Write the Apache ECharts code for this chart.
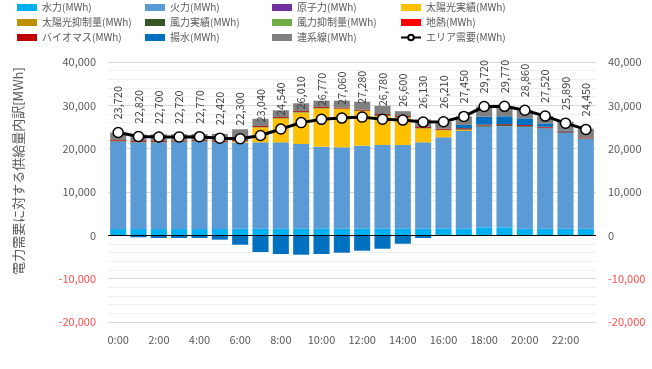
<!DOCTYPE html>
<html>
<head>
<meta charset="utf-8">
<script src="https://cdn.jsdelivr.net/npm/echarts@6/dist/echarts.min.js"></script>
<style>html,body{margin:0;padding:0;background:#fff}#c{width:652px;height:369px}</style>
</head>
<body>
<div id="c"></div>
<script>
const hours = ['0:00','1:00','2:00','3:00','4:00','5:00','6:00','7:00','8:00','9:00','10:00','11:00','12:00','13:00','14:00','15:00','16:00','17:00','18:00','19:00','20:00','21:00','22:00','23:00'];
const hydro      = [1450,1450,1450,1450,1450,1450,1530,1530,1530,1530,1530,1530,1530,1530,1530,1530,1600,1600,1850,1850,1530,1530,1530,1530];
const thermal    = [20200,20000,20000,20100,20200,20000,19840,19930,19930,19540,18920,18770,19150,19310,19310,19930,21020,22470,23250,23350,23530,23170,22120,20770];
const nuclear    = [0,0,0,0,0,0,0,0,0,0,0,0,0,0,0,0,0,0,0,0,0,0,0,0];
const solar      = [0,0,0,0,0,0,300,3470,5540,7300,8850,8900,8000,6750,6350,3230,1650,300,0,0,0,0,0,0];
const solarCurt  = [0,0,0,0,0,0,0,0,0,0,0,0,0,0,0,0,0,0,0,0,0,0,0,0];
const wind       = [100,100,100,100,100,100,100,100,100,100,100,100,100,200,150,100,100,150,250,250,200,150,150,100];
const windCurt   = [0,0,0,0,0,0,0,0,0,0,0,0,0,0,0,0,0,0,0,0,0,0,0,0];
const geothermal = [0,0,0,0,0,0,0,0,0,0,0,0,0,0,0,0,0,0,0,0,0,0,0,0];
const biomass    = [200,200,200,200,200,200,200,200,200,200,200,200,200,200,200,200,200,200,200,200,200,200,200,200];
const pumped     = [0,-460,-620,-620,-600,-1000,-2170,-3850,-4310,-4470,-4310,-4000,-3550,-3090,-1940,-620,0,760,1820,1820,1540,790,200,0];
const interconn  = [1770,1530,1570,1490,1420,1670,2500,1660,1550,1810,1480,1560,1850,1880,1100,1760,1640,1970,2350,2300,1860,1680,2000,2000];
const demand     = [23720,22820,22700,22720,22770,22420,22300,23040,24540,26010,26770,27060,27280,26780,26600,26130,26210,27450,29720,29770,28860,27520,25890,24450];
const yTicks = {min:-20000, max:40000, interval:10000};

const FONT = '"Noto Sans CJK JP", "Noto Sans", sans-serif';
const fmt = v => Number(v).toLocaleString('en-US');
const DEMAND = 'エリア需要(MWh)';

const barDefs = [
  ['水力(MWh)', hydro, '#00B0F0'],
  ['火力(MWh)', thermal, '#5B9BD5'],
  ['原子力(MWh)', nuclear, '#7030A0'],
  ['太陽光実績(MWh)', solar, '#FFC000'],
  ['太陽光抑制量(MWh)', solarCurt, '#BF9000'],
  ['風力実績(MWh)', wind, '#375623'],
  ['風力抑制量(MWh)', windCurt, '#70AD47'],
  ['地熱(MWh)', geothermal, '#FF0000'],
  ['バイオマス(MWh)', biomass, '#C00000'],
  ['揚水(MWh)', pumped, '#0070C0'],
  ['連系線(MWh)', interconn, '#808080']
];

const series = barDefs.map((d, i) => ({
  name: d[0], type: 'bar', stack: 'total', data: d[1],
  itemStyle: {color: d[2]}, barCategoryGap: '21%',
  markLine: i === 0 ? {silent: true, symbol: 'none', label: {show: false},
    lineStyle: {color: '#000', width: 1, type: 'solid'}, data: [{yAxis: 0}]} : undefined
}));
series.push({
  name: DEMAND, type: 'line', data: demand, z: 5,
  symbol: 'circle', symbolSize: 10,
  itemStyle: {color: '#fff', borderColor: '#000', borderWidth: 1.5},
  lineStyle: {color: '#000', width: 3}
});
// rotated demand value labels, positioned through the axes' coordinate system
series.push({
  name: 'demandLabel', type: 'custom', z: 6, silent: true,
  data: demand.map((v, i) => [i, v]),
  encode: {x: 0, y: 1},
  renderItem: (params, api) => {
    const v = api.value(1);
    const pt = api.coord([api.value(0), v]);
    return {
      type: 'text', x: pt[0], y: pt[1] - 13, rotation: Math.PI / 2,
      style: {text: fmt(v), align: 'left', verticalAlign: 'middle', fill: '#404040',
        font: '11px "Noto Sans CJK JP", "Noto Sans", sans-serif'}
    };
  }
});

const yAxisBase = (pos) => ({
  type: 'value', position: pos, min: yTicks.min, max: yTicks.max, interval: yTicks.interval,
  axisLine: {show: false}, axisTick: {show: false},
  axisLabel: {formatter: v => fmt(v), fontSize: 11, margin: 12, fontFamily: FONT,
    color: v => v < 0 ? '#FF4B4B' : '#595959'},
  splitLine: {show: pos === 'left', lineStyle: {color: '#d9d9d9'}},
  minorTick: {show: false, splitNumber: 5},
  minorSplitLine: {show: pos === 'left', lineStyle: {color: '#efefef'}}
});

const legendCols = [
  [17,  ['水力(MWh)', '太陽光抑制量(MWh)', 'バイオマス(MWh)']],
  [145, ['火力(MWh)', '風力実績(MWh)', '揚水(MWh)']],
  [272, ['原子力(MWh)', '風力抑制量(MWh)', '連系線(MWh)']],
  [400, ['太陽光実績(MWh)', '地熱(MWh)', DEMAND]]
];
const legends = legendCols.map(c => ({
  orient: 'vertical', left: c[0], top: 0, padding: 0, itemGap: 0, itemWidth: 20, itemHeight: 7,
  textStyle: {fontSize: 10, color: '#595959', lineHeight: 15, fontFamily: FONT},
  data: c[1].map(n => n === DEMAND ? {name: n} : {name: n, icon: 'rect'})
}));

const chart = echarts.init(document.getElementById('c'), null, {renderer: 'canvas'});
chart.setOption({
  animation: false,
  textStyle: {fontFamily: FONT},
  grid: {left: 108, right: 56, top: 62, bottom: 47, containLabel: false},
  legend: legends,
  xAxis: {
    type: 'category', data: hours,
    axisLine: {show: false}, axisTick: {show: false},
    axisLabel: {interval: 1, fontSize: 11, color: '#595959', margin: 12, fontFamily: FONT}
  },
  yAxis: [yAxisBase('left'), yAxisBase('right')],
  graphic: [{
    type: 'text', x: 18, y: 171, rotation: Math.PI / 2,
    style: {text: '電力需要に対する供給量内訳[MWh]', font: '13px "Noto Sans CJK JP"', fill: '#595959',
      align: 'center', verticalAlign: 'middle'}
  }],
  series: series
});
</script>
</body>
</html>
